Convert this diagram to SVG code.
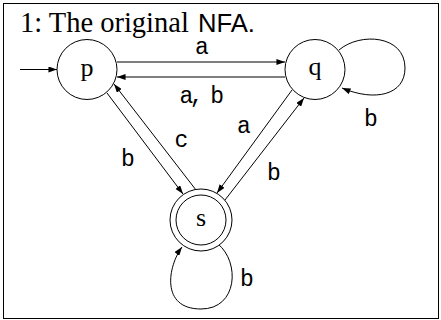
<svg xmlns="http://www.w3.org/2000/svg" width="441" height="320" viewBox="0 0 441 320">
<defs>
<marker id="arr" viewBox="0 0 10 7" refX="10" refY="3.5" markerWidth="9" markerHeight="6" markerUnits="userSpaceOnUse" orient="auto">
<path d="M0,0 L10,3.5 L0,7 z" fill="#000"/>
</marker>
<style>
.st{fill:#fff;stroke:#000;stroke-width:1}
.nl{font-family:"Liberation Serif",serif;font-size:26px;text-anchor:middle;fill:#000}
.ed{fill:none;stroke:#000;stroke-width:1;marker-end:url(#arr)}
.el{font-family:"Liberation Mono",monospace;font-size:23px;text-anchor:middle;fill:#000}
</style>
</defs>
<rect x="3.5" y="3.5" width="435" height="315" fill="#fff" stroke="#000" stroke-width="1"/>
<text x="20" y="32" font-family="Liberation Serif, serif" font-size="28.5">1: The original</text>
<text x="198" y="32" font-family="Liberation Sans, sans-serif" font-size="25" textLength="57" lengthAdjust="spacingAndGlyphs">NFA.</text>
<g id="connectors">
<path class="ed" d="M20,69.5 L57,69.5"/>
<path class="ed" d="M117,62 L285,62"/>
<path class="ed" d="M285,77 L117,77"/>
<path class="ed" d="M107,93 L183,194"/>
<path class="ed" d="M196,190 L114,84"/>
<path class="ed" d="M292,90 L217,193"/>
<path class="ed" d="M225,200 L304,98"/>
<path class="ed" d="M339,50 C360,32 405,35 405,68 C405,95 375,102 342,88"/>
<path class="ed" d="M218,244 C240,262 238,309 201,309 C160,309 168,266 182,247"/>
<text class="el" x="202" y="54">a</text>
<text class="el" x="200" y="103" letter-spacing="-3.5">a, b</text>
<text class="el" x="181.5" y="147">c</text>
<text class="el" x="128" y="166">b</text>
<text class="el" x="244" y="133">a</text>
<text class="el" x="274" y="180">b</text>
<text class="el" x="371" y="126">b</text>
<text class="el" x="247" y="285.5">b</text>
</g>
<g id="p">
<circle class="st" cx="87" cy="69.5" r="30"/>
<text class="nl" x="87" y="76">p</text>
</g>
<g id="q">
<circle class="st" cx="315" cy="69.5" r="30"/>
<text class="nl" x="315" y="75">q</text>
</g>
<g id="s">
<circle class="st" cx="201" cy="220" r="31"/>
<circle class="st" cx="201" cy="220" r="25"/>
<text class="nl" x="201" y="226">s</text>
</g>
</svg>
